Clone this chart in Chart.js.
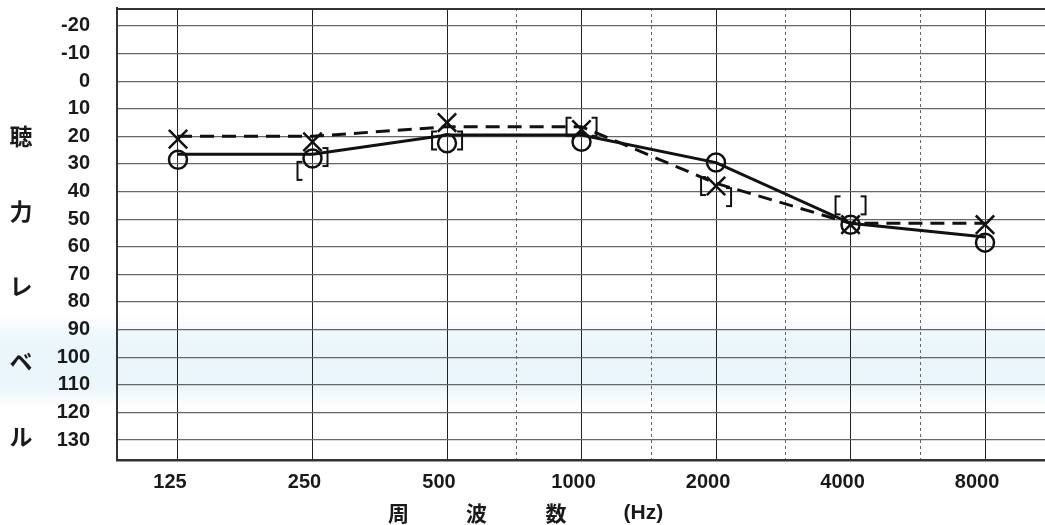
<!DOCTYPE html>
<html>
<head>
<meta charset="utf-8">
<script src="https://cdn.jsdelivr.net/npm/chart.js@4"></script>
<style>
  html, body { margin: 0; padding: 0; background: #fff; overflow: hidden; }
  #wrap { width: 1045px; height: 525px; position: relative; }
</style>
</head>
<body>
<div id="wrap"><canvas id="audiogram"></canvas></div>
<script>
// frequencies (octave index 0..6 on the x axis)
var freqLabels = ["125", "250", "500", "1000", "2000", "4000", "8000"];
var octaves = [0, 1, 2, 3, 4, 5, 6];
var halfOctaves = [2.52, 3.52, 4.52, 5.52]; // 750, 1500, 3000, 6000 (dashed lines)
var dbTicks = [-20, -10, 0, 10, 20, 30, 40, 50, 60, 70, 80, 90, 100, 110, 120, 130];
var yTitleChars = ["聴", "力", "レ", "ベ", "ル"];

// right ear (solid line, circles)
var rightLine = [26.5, 26.5, 19.5, 19.5, 29.5, 51.5, 56.5];
var rightMarks = [28.5, 28, 22.5, 22, 29.5, 52, 58.5];
// left ear (dashed line, crosses)
var leftLine = [20, 20, 16.5, 16.5, 37, 51.5, 51.5];
var leftMarks = [21, 22, 15, 17.5, 38, 52, 52];
// bone conduction brackets
var boneRight = [null, 32.5, 21.5, 16.5, 38, 45, null];  // "["
var boneLeft = [null, 27.5, 21.5, 16.5, 42, 45, null];   // "]"

function pts(vals) {
  return vals.map(function (v, i) { return { x: octaves[i], y: v }; });
}

// bracket glyphs as little canvases, drawn off to one side of the point
function bracket(side) {
  var c = document.createElement("canvas");
  c.width = 40; c.height = 24;
  var g = c.getContext("2d");
  g.strokeStyle = "#111";
  g.lineWidth = 2;
  var x = side < 0 ? 5 : 35, d = side < 0 ? 5 : -5;
  g.beginPath();
  g.moveTo(x + d, 3); g.lineTo(x, 3); g.lineTo(x, 21); g.lineTo(x + d, 21);
  g.stroke();
  return c;
}

var paperPlugin = {
  id: "paper",
  beforeDraw: function (chart) {
    var ctx = chart.ctx, y = chart.scales.y;
    ctx.save();
    ctx.fillStyle = "#fff";
    ctx.fillRect(0, 0, chart.width, chart.height);
    // faint blue scan band
    var y1 = y.getPixelForValue(84), y2 = y.getPixelForValue(118);
    var grd = ctx.createLinearGradient(0, y1, 0, y2);
    grd.addColorStop(0, "rgba(228,243,250,0)");
    grd.addColorStop(0.3, "rgba(228,243,250,0.75)");
    grd.addColorStop(0.8, "rgba(228,243,250,0.75)");
    grd.addColorStop(1, "rgba(228,243,250,0)");
    ctx.fillStyle = grd;
    ctx.fillRect(0, y1, chart.width, y2 - y1);
    ctx.restore();
  },
  afterDraw: function (chart) {
    var ctx = chart.ctx, a = chart.chartArea, x = chart.scales.x, y = chart.scales.y;
    ctx.save();
    // top frame line
    ctx.strokeStyle = "#333";
    ctx.lineWidth = 2;
    ctx.beginPath();
    ctx.moveTo(a.left, a.top + 1);
    ctx.lineTo(a.right, a.top + 1);
    ctx.stroke();
    // vertical y title
    ctx.fillStyle = "#1a1a1a";
    ctx.font = "bold 23px 'Noto Sans CJK JP'";
    ctx.textAlign = "center";
    ctx.textBaseline = "middle";
    yTitleChars.forEach(function (ch, i) {
      ctx.fillText(ch, 21, y.getPixelForValue(20 + i * 27.2));
    });
    // x title
    ctx.font = "bold 21px 'Noto Sans CJK JP'";
    var ty = 513;
    ctx.fillText("周", x.getPixelForValue(1.64), ty);
    ctx.fillText("波", x.getPixelForValue(2.22), ty);
    ctx.fillText("数", x.getPixelForValue(2.81), ty);
    ctx.font = "bold 21px 'Liberation Sans'";
    ctx.fillText("(Hz)", x.getPixelForValue(3.46), ty);
    ctx.restore();
  }
};

new Chart("audiogram", {
  type: "scatter",
  data: {
    datasets: [
      {
        label: "右 気導",
        data: pts(rightLine),
        showLine: true,
        borderColor: "#111",
        borderWidth: 3,
        pointRadius: 0
      },
      {
        label: "左 気導",
        data: pts(leftLine),
        showLine: true,
        borderColor: "#111",
        borderWidth: 3,
        borderDash: [14, 8],
        pointRadius: 0
      },
      {
        label: "右 記号",
        data: pts(rightMarks),
        pointStyle: "circle",
        pointRadius: 9,
        pointBorderWidth: 2.5,
        pointBorderColor: "#111",
        pointBackgroundColor: "rgba(0,0,0,0)"
      },
      {
        label: "左 記号",
        data: pts(leftMarks),
        pointStyle: "crossRot",
        pointRadius: 13,
        pointBorderWidth: 2.5,
        pointBorderColor: "#111"
      },
      {
        label: "右 骨導",
        data: pts(boneRight),
        pointStyle: bracket(-1),
        pointRadius: 10
      },
      {
        label: "左 骨導",
        data: pts(boneLeft),
        pointStyle: bracket(1),
        pointRadius: 10
      }
    ]
  },
  options: {
    responsive: true,
    maintainAspectRatio: false,
    animation: false,
    layout: { autoPadding: false, padding: { top: 8, left: 0, right: 0, bottom: 0 } },
    plugins: { legend: { display: false }, tooltip: { enabled: false } },
    scales: {
      x: {
        type: "linear",
        min: -0.4535,
        max: 6.446,
        afterBuildTicks: function (s) {
          s.ticks = octaves.concat(halfOctaves).sort(function (a, b) { return a - b; })
            .map(function (v) { return { value: v }; });
        },
        afterFit: function (s) {
          s.height = 65;
          s.paddingLeft = 0; s.paddingRight = 0;
        },
        grid: {
          drawTicks: false,
          color: function (c) { return c.tick && Number.isInteger(c.tick.value) ? "#222" : "#666"; },
          lineWidth: 1
        },
        border: {
          color: "#333",
          width: 2.5,
          dash: function (c) { return c.tick && !Number.isInteger(c.tick.value) ? [3, 3] : []; }
        },
        ticks: {
          autoSkip: false,
          maxRotation: 0,
          padding: 10,
          labelOffset: -8,
          color: "#1a1a1a",
          font: { family: "'Liberation Sans', Arial, sans-serif", size: 20, weight: "bold" },
          callback: function (v) { return Number.isInteger(v) ? freqLabels[v] : ""; }
        }
      },
      y: {
        reverse: true,
        min: -26.5,
        max: 137.25,
        afterBuildTicks: function (s) {
          s.ticks = dbTicks.map(function (v) { return { value: v }; });
        },
        afterFit: function (s) {
          s.width = 117;
          s.paddingTop = 0; s.paddingBottom = 0;
        },
        grid: { drawTicks: false, color: "#666", lineWidth: 1.2 },
        border: { color: "#333", width: 2 },
        ticks: {
          padding: 27,
          color: "#1a1a1a",
          font: { family: "'Liberation Sans', Arial, sans-serif", size: 20, weight: "bold" }
        }
      }
    }
  },
  plugins: [paperPlugin]
});
</script>
</body>
</html>
